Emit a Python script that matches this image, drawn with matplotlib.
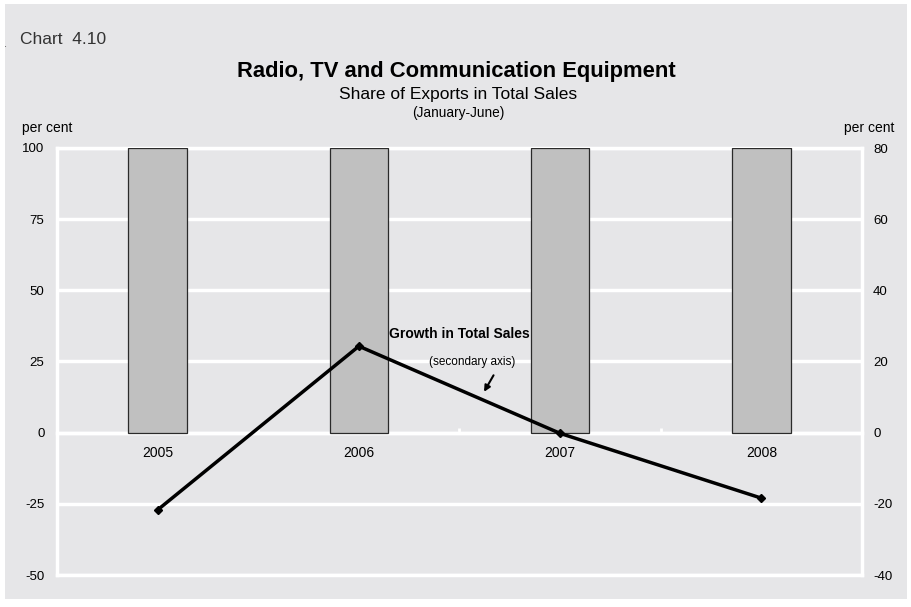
import numpy as np
import matplotlib.pyplot as plt
from matplotlib.patches import Rectangle

plt.rcParams['font.family'] = ['Liberation Sans', 'DejaVu Sans']
plt.rcParams['axes.unicode_minus'] = False

years = ['2005', '2006', '2007', '2008']
export_share = [100, 100, 100, 100]          # per cent, left axis
sales_growth = [-21.7, 24.3, -0.2, -18.4]    # per cent, right axis

bg = '#e6e6e8'
fig = plt.figure(figsize=(9.12, 6.07), dpi=100)
fig.patch.set_facecolor('white')
fig.patches.append(Rectangle((5 / 912, 8 / 607), 902 / 912, 595 / 607,
                             transform=fig.transFigure, facecolor=bg, edgecolor='none', zorder=-10))

ax = fig.add_axes([57 / 912, 32 / 607, 805 / 912, 427 / 607])
ax.set_facecolor(bg)
x = np.arange(len(years))

ax.bar(x, export_share, width=0.29, color='#c0c0c0', edgecolor='#2a2a2a', lw=0.9, zorder=3)
ax.set_xlim(-0.5, 3.5)
ax.set_ylim(-50, 100)
ax.set_yticks(np.arange(-50, 101, 25))
ax.grid(axis='y', color='white', lw=2.5, zorder=0)
ax.axhline(-50, color='white', lw=2.5, clip_on=False, zorder=1)
for s in ax.spines.values():
    s.set_color('white')
    s.set_linewidth(2.5)
# category axis sits on the zero line
ax.spines['bottom'].set_position(('data', 0))
ax.tick_params(axis='y', length=0, pad=9, labelsize=9.5)
ax.set_xticks([])
ax.set_xticks([0.5, 1.5, 2.5], minor=True)
ax.tick_params(axis='x', which='minor', direction='in', length=3.5, color='white', width=2)
for i, yr in enumerate(years):
    ax.text(i, -7, yr, ha='center', va='center', fontsize=10)

ax2 = ax.twinx()
ax2.set_ylim(-40, 80)
ax2.set_yticks(np.arange(-40, 81, 20))
ax2.tick_params(axis='y', length=0, pad=8, labelsize=9.5)
for s in ax2.spines.values():
    s.set_visible(False)
ax2.plot(x, sales_growth, color='black', lw=2.5, marker='D', ms=4, zorder=5)

ax2.text(1.15, 27.8, 'Growth in Total Sales', fontsize=10, fontweight='bold', ha='left', va='center')
ax2.text(1.35, 20.0, '(secondary axis)', fontsize=8.5, ha='left', va='center')
ax2.annotate('', xy=(1.615, 10.8), xytext=(1.676, 16.8),
             arrowprops=dict(arrowstyle='-|>', color='black', lw=1.5, mutation_scale=9))

fig.text(20 / 912, 1 - 39 / 607, 'Chart  4.10', fontsize=12.5, color='#333333', ha='left', va='center')
fig.text(4 / 912, 1 - 44 / 607, '.', fontsize=8, color='#555555', ha='left', va='center')
fig.text(456 / 912, 1 - 72 / 607, 'Radio, TV and Communication Equipment', fontsize=15.8,
         fontweight='bold', ha='center', va='center')
fig.text(458 / 912, 1 - 95 / 607, 'Share of Exports in Total Sales', fontsize=12.5, ha='center', va='center')
fig.text(458 / 912, 1 - 113 / 607, '(January-June)', fontsize=9.8, ha='center', va='center')
fig.text(22 / 912, 1 - 128 / 607, 'per cent', fontsize=10, ha='left', va='center')
fig.text(894 / 912, 1 - 128 / 607, 'per cent', fontsize=10, ha='right', va='center')

fig.savefig('out.png', dpi=100, facecolor=fig.get_facecolor())
